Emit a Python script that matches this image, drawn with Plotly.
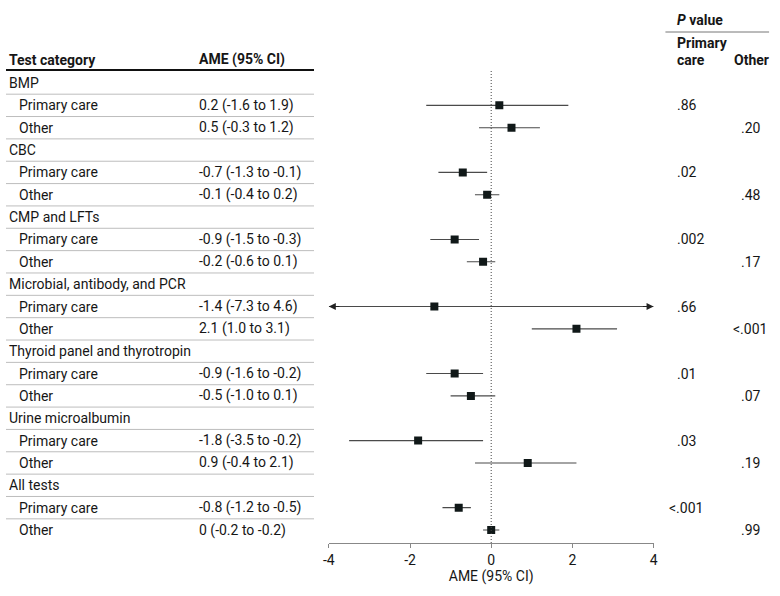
import plotly.graph_objects as go

categories = ["BMP", "CBC", "CMP and LFTs", "Microbial, antibody, and PCR",
              "Thyroid panel and thyrotropin", "Urine microalbumin", "All tests"]
pc_ame = [0.2, -0.7, -0.9, -1.4, -0.9, -1.8, -0.8]
pc_lo = [-1.6, -1.3, -1.5, -7.3, -1.6, -3.5, -1.2]
pc_hi = [1.9, -0.1, -0.3, 4.6, -0.2, -0.2, -0.5]
pc_text = ["0.2 (-1.6 to 1.9)", "-0.7 (-1.3 to -0.1)", "-0.9 (-1.5 to -0.3)",
           "-1.4 (-7.3 to 4.6)", "-0.9 (-1.6 to -0.2)", "-1.8 (-3.5 to -0.2)",
           "-0.8 (-1.2 to -0.5)"]
pc_p = [".86", ".02", ".002", ".66", ".01", ".03", "<.001"]

ot_ame = [0.5, -0.1, -0.2, 2.1, -0.5, 0.9, 0.0]
ot_lo = [-0.3, -0.4, -0.6, 1.0, -1.0, -0.4, -0.2]
ot_hi = [1.2, 0.2, 0.1, 3.1, 0.1, 2.1, 0.2]
ot_text = ["0.5 (-0.3 to 1.2)", "-0.1 (-0.4 to 0.2)", "-0.2 (-0.6 to 0.1)",
           "2.1 (1.0 to 3.1)", "-0.5 (-1.0 to 0.1)", "0.9 (-0.4 to 2.1)",
           "0 (-0.2 to -0.2)"]
ot_p = [".20", ".48", ".17", "<.001", ".07", ".19", ".99"]

x_ticks = [-4, -2, 0, 2, 4]
XMIN, XMAX = -4, 4

W, H = 780, 596
FONT = "Roboto"
FS = 14
TXT = "#161616"

def px(x):
    return x / W

def py(y):
    return 1 - y / H

fig = go.Figure()

rows_y_pc = [3 * i + 1 for i in range(len(categories))]
rows_y_ot = [3 * i + 2 for i in range(len(categories))]

annos = []

# CI lines (clipped to the axis range)
lx, ly = [], []
arrows = []
for yy, lo, hi in list(zip(rows_y_pc, pc_lo, pc_hi)) + list(zip(rows_y_ot, ot_lo, ot_hi)):
    a, b = max(lo, XMIN), min(hi, XMAX)
    if lo < XMIN or hi > XMAX:
        arrows.append((yy, lo < XMIN, hi > XMAX))
    lx += [a, b, None]
    ly += [yy, yy, None]
fig.add_trace(go.Scatter(x=lx, y=ly, mode="lines",
                         line=dict(color="#4a4a4a", width=1.1),
                         hoverinfo="skip", showlegend=False))

for yy, left, right in arrows:
    if right:
        annos.append(dict(x=XMAX, y=yy, ax=XMAX - 0.3, ay=yy, xref="x", yref="y",
                          axref="x", ayref="y", showarrow=True, arrowhead=2,
                          arrowsize=1.4, arrowwidth=1, arrowcolor="#222", text=""))
    if left:
        annos.append(dict(x=XMIN, y=yy, ax=XMIN + 0.3, ay=yy, xref="x", yref="y",
                          axref="x", ayref="y", showarrow=True, arrowhead=2,
                          arrowsize=1.4, arrowwidth=1, arrowcolor="#222", text=""))

fig.add_trace(go.Scatter(x=pc_ame + ot_ame, y=rows_y_pc + rows_y_ot, mode="markers",
                         marker=dict(symbol="square", size=8, color="#101818"),
                         hoverinfo="skip", showlegend=False))

# zero reference line
fig.add_shape(type="line", xref="x", yref="paper", x0=0, x1=0,
              y0=py(543), y1=py(70), line=dict(color="#444", width=1, dash="1px,2px"))

def txt(x, y, s, yref="y", anchor="left", bold=False, size=FS, xshift=0):
    annos.append(dict(x=x, y=y, xref="paper", yref=yref, text=f"<b>{s}</b>" if bold else s,
                      showarrow=False, xanchor=anchor, yanchor="middle", xshift=xshift,
                      font=dict(family=FONT, size=size, color=TXT)))

def ptxt(xdec, y, s):
    shift = 0 if s.startswith(".") else -8
    txt(xdec, y, s, xshift=shift)

shapes = []
for i, cat in enumerate(categories):
    yc = 3 * i
    txt(px(1), yc, cat)
    txt(px(11), yc + 1, "Primary care")
    txt(px(11), yc + 2, "Other")
    txt(px(193), yc + 1, pc_text[i])
    txt(px(193), yc + 2, ot_text[i])
    ptxt(px(678), yc + 1, pc_p[i])
    ptxt(px(743), yc + 2, ot_p[i])

n_rows = 3 * len(categories)
for r in range(n_rows - 1):
    shapes.append(dict(type="line", xref="paper", yref="y", x0=0, x1=px(312),
                       y0=r + 0.5, y1=r + 0.5, line=dict(color="#bdbdbd", width=1)))
shapes.append(dict(type="line", xref="paper", yref="paper", x0=0, x1=px(312),
                   y0=py(70), y1=py(70), line=dict(color="#111", width=2)))
shapes.append(dict(type="line", xref="paper", yref="paper", x0=px(668), x1=px(773),
                   y0=py(32), y1=py(32), line=dict(color="#777", width=1)))

# headers
txt(px(1), py(60), "Test category", yref="paper", bold=True)
txt(px(193), py(60), "AME (95% CI)", yref="paper", bold=True)
txt(px(678), py(20), "<i>P</i> value", yref="paper", bold=True)
txt(px(678), py(43), "Primary", yref="paper", bold=True)
txt(px(678), py(60), "care", yref="paper", bold=True)
txt(px(735), py(60), "Other", yref="paper", bold=True)

for s in shapes:
    fig.add_shape(**s)

top_i = (70 - 83) / 22.35
bot_i = (543 - 83) / 22.35

fig.update_layout(
    width=W, height=H, margin=dict(l=0, r=0, t=0, b=0),
    paper_bgcolor="white", plot_bgcolor="white",
    annotations=annos,
    xaxis=dict(domain=[px(327), px(656)], range=[XMIN, XMAX], tickvals=x_ticks,
               ticktext=[str(v) for v in x_ticks], showgrid=False, zeroline=False,
               showline=True, linecolor="#888", linewidth=1, ticks="outside",
               ticklen=4, tickcolor="#888",
               tickfont=dict(family=FONT, size=FS, color=TXT),
               title=dict(text="AME (95% CI)", font=dict(family=FONT, size=FS, color=TXT),
                          standoff=4)),
    yaxis=dict(domain=[py(543), py(70)], range=[bot_i, top_i], showgrid=False,
               zeroline=False, showticklabels=False, showline=False, ticks=""),
    font=dict(family=FONT),
)

fig.write_html("out.html")
